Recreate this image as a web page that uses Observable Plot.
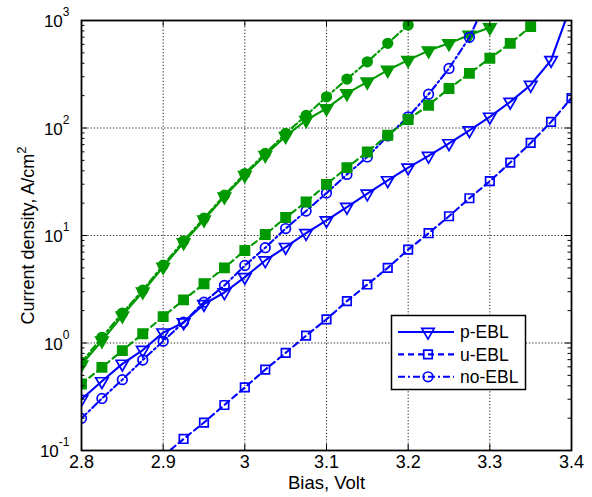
<!DOCTYPE html>
<html>
<head>
<meta charset="utf-8">
<script src="https://cdn.jsdelivr.net/npm/d3@7"></script>
<script src="https://cdn.jsdelivr.net/npm/@observablehq/plot@0.6"></script>
<style>
  html, body { margin: 0; padding: 0; background: #fff; }
  #chart { width: 592px; height: 497px; }
</style>
</head>
<body>
<div id="chart"></div>
<script>
// ---- data ----
const biasP = [2.8, 2.825, 2.85, 2.875, 2.9, 2.925, 2.95, 2.975, 3.0, 3.025, 3.05, 3.075, 3.1, 3.125, 3.15, 3.175, 3.2, 3.225, 3.25, 3.275, 3.3, 3.325, 3.35, 3.375, 3.4];
const pEBL  = [0.30, 0.44, 0.64, 0.86, 1.25, 1.55, 2.3, 2.95, 4.1, 5.86, 7.8, 10.5, 13.8, 18.4, 24.5, 32.6, 42.8, 55, 72, 95, 127, 175, 251, 428, 1430];

const biasU = [2.9, 2.925, 2.95, 2.975, 3.0, 3.025, 3.05, 3.075, 3.1, 3.125, 3.15, 3.175, 3.2, 3.225, 3.25, 3.275, 3.3, 3.325, 3.35, 3.375, 3.4];
const uEBL  = [0.089, 0.128, 0.182, 0.265, 0.386, 0.565, 0.81, 1.17, 1.66, 2.45, 3.5, 5.0, 7.4, 10.5, 15.1, 22.2, 32, 47.7, 72.6, 114, 190];

const biasN = [2.8, 2.825, 2.85, 2.875, 2.9, 2.925, 2.95, 2.975, 3.0, 3.025, 3.05, 3.075, 3.1, 3.125, 3.15, 3.175, 3.2, 3.225, 3.25, 3.275, 3.3];
const noEBL = [0.199, 0.305, 0.456, 0.695, 1.04, 1.56, 2.4, 3.43, 5.26, 7.7, 11.6, 16.9, 24.8, 37, 53.8, 84.3, 127, 206, 358, 697, 1800];

const biasGT = [2.8, 2.825, 2.85, 2.875, 2.9, 2.925, 2.95, 2.975, 3.0, 3.025, 3.05, 3.075, 3.1, 3.125, 3.15, 3.175, 3.2, 3.225, 3.25, 3.275, 3.3];
const greenTri = [0.63, 1.05, 1.8, 3.0, 5.1, 8.6, 14.0, 23, 36.5, 56, 84, 118, 152, 210, 269, 346, 428, 525, 613, 733, 860];

const biasGC = [2.8, 2.825, 2.85, 2.875, 2.9, 2.925, 2.95, 2.975, 3.0, 3.025, 3.05, 3.075, 3.1, 3.125, 3.15, 3.175, 3.2];
const greenCirc = [0.66, 1.13, 1.9, 3.1, 5.3, 8.9, 14.5, 23.7, 37.7, 58, 89, 131, 195, 285, 413, 613, 908];

const biasGS = [2.8, 2.825, 2.85, 2.875, 2.9, 2.925, 2.95, 2.975, 3.0, 3.025, 3.05, 3.075, 3.1, 3.125, 3.15, 3.175, 3.2, 3.225, 3.25, 3.275, 3.3, 3.325, 3.35];
const greenSq = [0.416, 0.593, 0.85, 1.22, 1.76, 2.52, 3.56, 5.0, 7.26, 10.2, 14.7, 20.5, 29.9, 42.8, 59.8, 85.7, 120, 163, 233, 322, 445, 613, 877];

const xTicks = [2.8, 2.9, 3.0, 3.1, 3.2, 3.3, 3.4];
const xTickLabels = ["2.8", "2.9", "3", "3.1", "3.2", "3.3", "3.4"];
const xGrid = [2.9, 3.0, 3.1, 3.2, 3.3];
const yMajor = [0.1, 1, 10, 100, 1000];
const yExp = ["-1", "0", "1", "2", "3"];
const yGrid = [1, 10, 100];
const yMinor = [0.2,0.3,0.4,0.5,0.6,0.7,0.8,0.9, 2,3,4,5,6,7,8,9, 20,30,40,50,60,70,80,90, 200,300,400,500,600,700,800,900];
const legendLabels = ["p-EBL", "u-EBL", "no-EBL"];
const xLabel = "Bias, Volt";
const yLabel = "Current density, A/cm";

// ---- styles ----
const BLUE = "#0000ff", GREEN = "#009900";
const FONT = "'Liberation Sans', Arial, Helvetica, sans-serif";
const DASH = "6,4", DASHDOT = "7,3,2,3";

const zip = (xs, ys) => xs.map((x, i) => ({x, y: ys[i]}));
const dP = zip(biasP, pEBL), dU = zip(biasU, uEBL), dN = zip(biasN, noEBL);
const dGT = zip(biasGT, greenTri), dGC = zip(biasGC, greenCirc), dGS = zip(biasGS, greenSq);

const triDown = {
  draw(ctx, size) {
    const y = Math.sqrt(size / (3 * Math.sqrt(3)));
    const s = Math.sqrt(3) * y;
    ctx.moveTo(0, 2 * y); ctx.lineTo(-s, -y); ctx.lineTo(s, -y); ctx.closePath();
  }
};

const W = 592, H = 497, MT = 20, MB = 47, ML = 81, MR = 21;
const PH = H - MT - MB, PW = W - ML - MR;

function series(data, color, dash, symbol, r, filled) {
  return [
    Plot.line(data, {x: "x", y: "y", stroke: color, strokeWidth: 2.1, strokeDasharray: dash, clip: true}),
    Plot.dot(data, {x: "x", y: "y", symbol, r, stroke: color, strokeWidth: 1.7,
      fill: filled ? color : "none", clip: true})
  ];
}

const chart = Plot.plot({
  width: W, height: H,
  marginTop: MT, marginBottom: MB, marginLeft: ML, marginRight: MR,
  x: {domain: [2.8, 3.4], axis: null},
  y: {type: "log", domain: [0.1, 1000], axis: null},
  style: {fontFamily: FONT, fontSize: "17px", background: "#fff", color: "#000"},
  marks: [
    Plot.ruleX(xGrid, {stroke: "#000", strokeWidth: 0.9, strokeDasharray: "1.2,2"}),
    Plot.ruleY(yGrid, {stroke: "#000", strokeWidth: 0.9, strokeDasharray: "1.2,2"}),
    ...series(dGT, GREEN, null, triDown, 4.6, true),
    ...series(dGC, GREEN, DASHDOT, "circle", 4.8, true),
    ...series(dP, BLUE, null, triDown, 4.6, false),
    ...series(dU, BLUE, DASH, "square", 4.8, false),
    ...series(dN, BLUE, DASHDOT, "circle", 4.8, false),
    ...series(dGS, GREEN, DASH, "square", 5.2, true),
    // inward ticks
    Plot.ruleX(xTicks, {stroke: "#000", strokeWidth: 1, insetTop: PH - 6}),
    Plot.ruleX(xTicks, {stroke: "#000", strokeWidth: 1, insetBottom: PH - 6}),
    Plot.ruleY(yMajor, {stroke: "#000", strokeWidth: 1, insetRight: PW - 6}),
    Plot.ruleY(yMajor, {stroke: "#000", strokeWidth: 1, insetLeft: PW - 6}),
    Plot.ruleY(yMinor, {stroke: "#000", strokeWidth: 1, insetRight: PW - 3.5}),
    Plot.ruleY(yMinor, {stroke: "#000", strokeWidth: 1, insetLeft: PW - 3.5}),
    Plot.frame({stroke: "#000", strokeWidth: 1.8}),
    // tick labels
    Plot.text(xTicks, {x: d => d, frameAnchor: "bottom", dy: 17.5, textAnchor: "middle", text: (d, i) => xTickLabels[i], fontSize: 18, fill: "#000"}),
    Plot.text(yMajor, {y: d => d, frameAnchor: "left", dx: -12, dy: 1.5, textAnchor: "end", text: () => "10", fontSize: 17, fill: "#000", ariaDescription: "ytick-labels"}),
    // axis labels
    Plot.text([xLabel], {frameAnchor: "bottom", dy: 38.5, textAnchor: "middle", text: d => d, fontSize: 18.5, fill: "#000"}),
    Plot.text([yLabel], {frameAnchor: "left", dx: -53, rotate: -90, textAnchor: "middle", text: d => d, fontSize: 18, fill: "#000", ariaDescription: "y-label"})
  ]
});

document.getElementById("chart").appendChild(chart);
const svg = d3.select(chart.tagName.toLowerCase() === "svg" ? chart : chart.querySelector("svg"));

// superscripts
svg.selectAll('g[aria-description="ytick-labels"] text').each(function(d, i) {
  d3.select(this).append("tspan").attr("dy", -11).attr("font-size", 12).text(yExp[i]);
});
svg.selectAll('g[aria-description="y-label"] text').each(function() {
  d3.select(this).append("tspan").attr("dy", -8).attr("font-size", 13).text("2");
});

// legend (inside the axes, lower right)
const lg = svg.append("g").attr("font-family", FONT).attr("font-size", 17.5).attr("text-anchor", "start");
lg.append("rect").attr("x", 391.5).attr("y", 315.5).attr("width", 134).attr("height", 74)
  .attr("fill", "#fff").attr("stroke", "#000").attr("stroke-width", 1.5);
const legendStyles = [
  {dash: null, sym: triDown, size: Math.PI * 4.6 * 4.6},
  {dash: DASH, sym: d3.symbolSquare, size: Math.PI * 4.8 * 4.8},
  {dash: DASHDOT, sym: d3.symbolCircle, size: Math.PI * 4.8 * 4.8}
];
legendLabels.forEach((lab, i) => {
  const y = 332 + i * 22.4;
  const st = legendStyles[i];
  lg.append("line").attr("x1", 398).attr("x2", 454).attr("y1", y).attr("y2", y)
    .attr("stroke", BLUE).attr("stroke-width", 2.1).attr("stroke-dasharray", st.dash);
  lg.append("path").attr("transform", `translate(428,${y})`)
    .attr("d", d3.symbol(st.sym, st.size)()).attr("fill", "none").attr("stroke", BLUE).attr("stroke-width", 1.7);
  lg.append("text").attr("x", 460).attr("y", y).attr("dy", "0.35em").attr("fill", "#000")
    .attr("text-anchor", "start").text(lab);
});
</script>
</body>
</html>
